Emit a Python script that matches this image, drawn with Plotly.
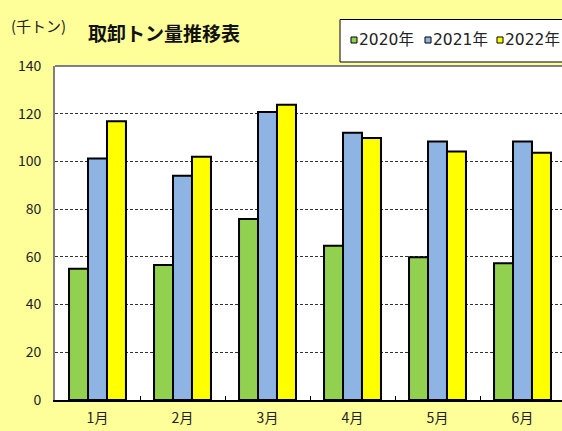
import plotly.graph_objects as go

months = ["1月", "2月", "3月", "4月", "5月", "6月"]
series_names = ["2020年", "2021年", "2022年"]
v2020 = [55, 56.6, 75.9, 64.7, 59.8, 57.3]
v2021 = [101.2, 94, 120.7, 112, 108.4, 108.4]
v2022 = [116.8, 102, 123.8, 109.8, 104.2, 103.6]
colors = ["#92D050", "#8DB4E2", "#FFFF00"]
y_ticks = [0, 20, 40, 60, 80, 100, 120, 140]

W, H = 562, 431
ML, MT, MB, MR = 55, 66, 31, 0
PW = W - ML - MR
PH = H - MT - MB
FONT = "Noto Sans CJK JP"
MIXFONT = "DejaVu Sans, Noto Sans CJK JP"

def px_x(px):
    return (px - ML) / PW

def px_y(py):
    return (H - MB - py) / PH

fig = go.Figure()
for name, vals, col in zip(series_names, [v2020, v2021, v2022], colors):
    fig.add_trace(go.Bar(
        x=months, y=vals, name=name, showlegend=False, hoverinfo="skip",
        marker=dict(color=col, line=dict(color="#000000", width=2)),
    ))

cat_w = PW / 85.0
fig.update_layout(
    width=W, height=H,
    margin=dict(l=ML, r=MR, t=MT, b=MB, autoexpand=False),
    paper_bgcolor="#FFFF99",
    plot_bgcolor="#FFFFFF",
    barmode="group", bargap=0.33, bargroupgap=0,
    font=dict(family=FONT, size=14, color="#222222"),
    xaxis=dict(
        type="category", range=[-0.5, -0.5 + cat_w],
        showgrid=False, showline=True, linecolor="#000000", linewidth=2,
        ticks="inside", tickson="boundaries", ticklen=4, tickcolor="#000000",
        ticklabelstandoff=4,
        tickfont=dict(family=FONT, size=14, color="#222222"),
        fixedrange=True,
    ),
    yaxis=dict(
        range=[0, 140], tickvals=y_ticks, ticktext=[str(t) for t in y_ticks],
        showgrid=True, gridcolor="#333333", griddash="3px,2px", gridwidth=1,
        showline=True, linecolor="#808080", linewidth=2,
        ticks="", ticklabelstandoff=9,
        tickfont=dict(family=FONT, size=14, color="#222222"),
        zeroline=False, fixedrange=True,
    ),
)

shapes = []
shapes.append(dict(type="line", xref="paper", yref="paper", x0=0, x1=1.02,
                   y0=1, y1=1, line=dict(color="#808080", width=2)))
shapes.append(dict(type="rect", xref="paper", yref="paper",
                   x0=px_x(340), x1=px_x(600), y0=px_y(62), y1=px_y(19.5),
                   fillcolor="#FFFFFF", line=dict(color="#000000", width=1)))
legend_sq_x = [351, 425, 497]
annotations = []
for sx, name, col in zip(legend_sq_x, series_names, colors):
    shapes.append(dict(type="rect", xref="paper", yref="paper",
                       x0=px_x(sx), x1=px_x(sx + 6), y0=px_y(43), y1=px_y(37),
                       fillcolor=col, line=dict(color="#000000", width=1)))
    annotations.append(dict(text=name, xref="paper", yref="paper",
                            x=px_x(sx + 6), y=px_y(40), xanchor="left", yanchor="middle",
                            showarrow=False,
                            font=dict(family=MIXFONT, size=15.5, color="#222222")))
annotations.append(dict(text="(千トン)", xref="paper", yref="paper",
                        x=px_x(9), y=px_y(26), xanchor="left", yanchor="middle",
                        showarrow=False, font=dict(family=FONT, size=15, color="#222222")))
annotations.append(dict(text="<b>取卸トン量推移表</b>", xref="paper", yref="paper",
                        x=px_x(86), y=px_y(33), xanchor="left", yanchor="middle",
                        showarrow=False, font=dict(family=FONT, size=19, color="#111111")))
fig.update_layout(shapes=shapes, annotations=annotations)

fig.write_html(
    "out.html",
    config={"displayModeBar": False},
    post_script="document.body.style.margin='0';document.body.style.background='#FFFF99';document.body.style.overflow='hidden';",
)
